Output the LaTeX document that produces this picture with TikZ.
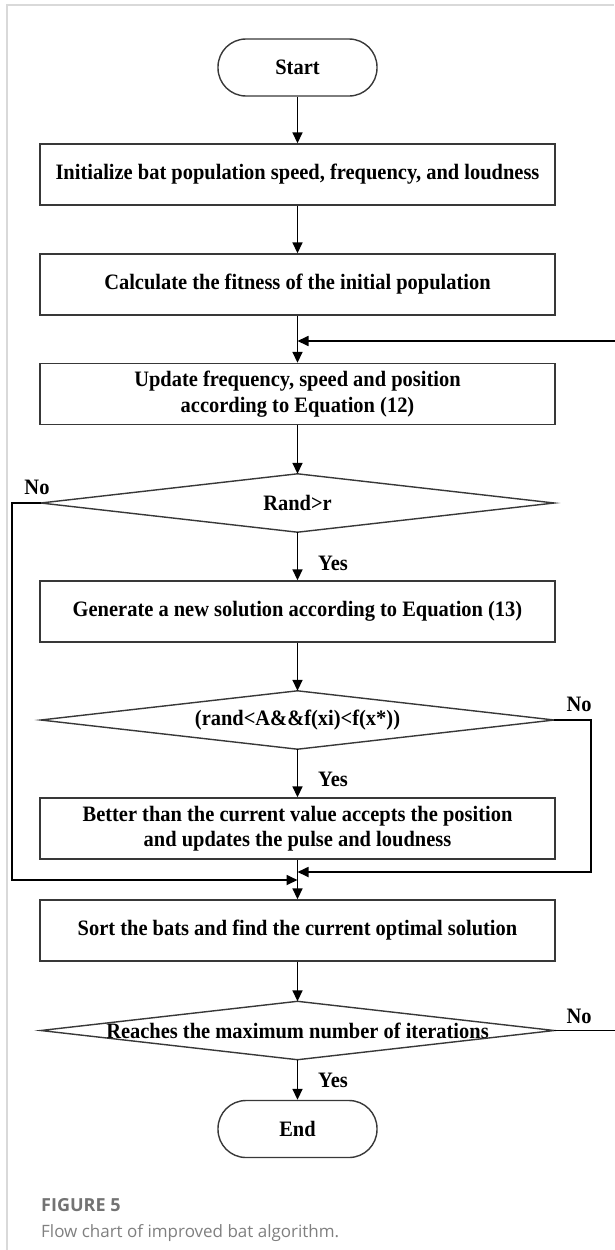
\documentclass[tikz,border=0pt]{standalone}
\usepackage{fontspec}
\setmainfont{Liberation Serif}[FakeStretch=0.93]
\newfontfamily\capfont{Open Sans}
\usetikzlibrary{arrows.meta}

\tikzset{
  boxline/.style={line width=1.4pt, draw=black!78},
  process/.style={boxline, rectangle, minimum width=515pt, minimum height=61pt, align=center, inner sep=2pt},
  terminal/.style={boxline, rectangle, rounded corners=28pt, minimum width=159pt, minimum height=57pt},
  decision/.style={rectangle, minimum width=513pt, minimum height=58pt, inner sep=0pt},
  flow/.style={line width=1.7pt, -{Triangle[length=11pt,width=10pt]}},
  tag/.style={inner sep=0pt}
}

\begin{document}
\begin{tikzpicture}[x=1pt, y=-1pt, font=\fontsize{22}{25.5}\selectfont\bfseries]
			%%%%% START %%%%%
			
			\path[use as bounding box, fill=white] (0,0) rectangle (614,1250);
			\draw[line width=1.5pt, black!15] (7,1250) -- (7,5) -- (614,5);
			
			\node[terminal] (start) at (297.5,67.5) {Start};
			\node[process] (init) at (297.5,174.5) {Initialize bat population speed, frequency, and loudness};
			\node[process] (fit) at (297.5,284.5) {Calculate the fitness of the initial population};
			\node[process] (upd) at (297.5,394) {Update frequency, speed and position\\according to Equation (12)};
			\node[decision] (rr) at (297.5,503) {Rand>r};
			\node[process] (gen) at (297.5,611.5) {Generate a new solution according to Equation (13)};
			\node[decision] (acc) at (297.5,720) {(rand<A\&\&f(xi)<f(x*))};
			\node[process] (better) at (297.5,828.5) {Better than the current value accepts the position\\and updates the pulse and loudness};
			\node[process] (sort) at (297.5,930.5) {Sort the bats and find the current optimal solution};
			\node[decision] (iter) at (297.5,1030.5) {Reaches the maximum number of iterations};
			\node[terminal] (end) at (297.5,1129) {End};
			
			\foreach \d in {rr,acc,iter}
				\draw[boxline] (\d.north) -- (\d.east) -- (\d.south) -- (\d.west) -- cycle;
			
			\coordinate (m1) at (297.5,341);
			\coordinate (m2) at (297.5,880);
			\coordinate (m3) at (297.5,872);
			
			\draw[flow] (start) -- (init);
			\draw[flow] (init) -- (fit);
			\draw[flow] (fit) -- (upd);
			\draw[flow] (upd) -- (rr.north);
			\draw[flow] (rr.south) -- (gen);
			\draw[flow] (gen) -- (acc.north);
			\draw[flow] (acc.south) -- (better);
			\draw[flow] (better) -- (sort);
			\draw[flow] (sort) -- (iter.north);
			\draw[flow] (iter.south) -- (end);
			
			\draw[flow] (rr.west) -- ++(-29,0) |- (m2);
			\draw[flow] (acc.east) -- ++(37,0) |- (m3);
			\draw[flow] (iter.east) -- ++(70,0) |- (m1);
			
			\node[tag] (yes1) at (333,563) {Yes};
			\node[tag] (yes2) at (333,779) {Yes};
			\node[tag] (yes3) at (333,1080) {Yes};
			\node[tag] (no1) at (37,487) {No};
			\node[tag] (no2) at (579,704) {No};
			\node[tag] (no3) at (579,1016) {No};
			
			\node[anchor=base west, inner sep=0pt, text=black!55, font=\capfont\bfseries\fontsize{18}{22}\selectfont] (fig) at (41,1211) {FIGURE 5};
			\node[anchor=base west, inner sep=0pt, text=black!50, font=\capfont\mdseries\fontsize{17}{21}\selectfont] (cap) at (41,1237) {Flow chart of improved bat algorithm.};
			
			%%%%% END %%%%%
\end{tikzpicture}
\end{document}
